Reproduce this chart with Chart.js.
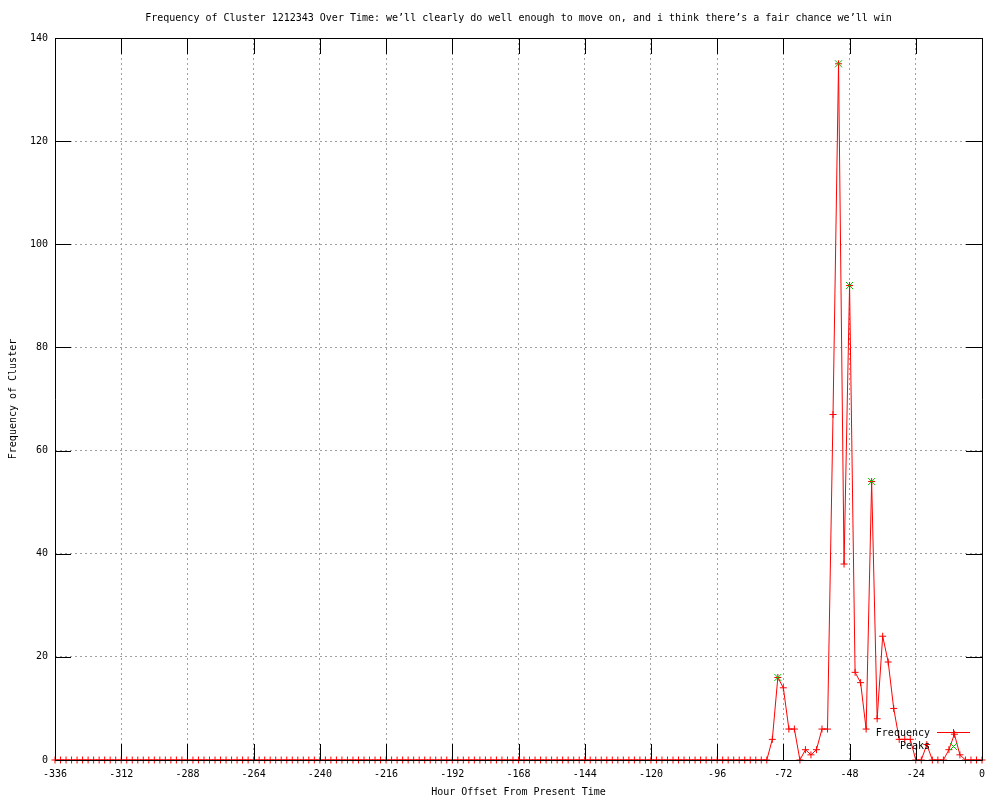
<!DOCTYPE html>
<html>
<head>
<meta charset="utf-8">
<script src="https://cdn.jsdelivr.net/npm/chart.js@4/dist/chart.umd.min.js"></script>
<style>
html, body { margin: 0; padding: 0; background: #fff; }
</style>
</head>
<body>
<canvas id="grafica" width="1000" height="800"></canvas>
<script>
// horas (cada 2 h) y frecuencia del cluster
const hours = [
  -336,-334,-332,-330,-328,-326,-324,-322,-320,-318,-316,-314,
  -312,-310,-308,-306,-304,-302,-300,-298,-296,-294,-292,-290,
  -288,-286,-284,-282,-280,-278,-276,-274,-272,-270,-268,-266,
  -264,-262,-260,-258,-256,-254,-252,-250,-248,-246,-244,-242,
  -240,-238,-236,-234,-232,-230,-228,-226,-224,-222,-220,-218,
  -216,-214,-212,-210,-208,-206,-204,-202,-200,-198,-196,-194,
  -192,-190,-188,-186,-184,-182,-180,-178,-176,-174,-172,-170,
  -168,-166,-164,-162,-160,-158,-156,-154,-152,-150,-148,-146,
  -144,-142,-140,-138,-136,-134,-132,-130,-128,-126,-124,-122,
  -120,-118,-116,-114,-112,-110,-108,-106,-104,-102,-100,-98,
  -96,-94,-92,-90,-88,-86,-84,-82,-80,-78,-76,-74,
  -72,-70,-68,-66,-64,-62,-60,-58,-56,-54,-52,-50,
  -48,-46,-44,-42,-40,-38,-36,-34,-32,-30,-28,-26,
  -24,-22,-20,-18,-16,-14,-12,-10,-8,-6,-4,-2,
  0
];
const frequency = [
  0,0,0,0,0,0,0,0,0,0,0,0,
  0,0,0,0,0,0,0,0,0,0,0,0,
  0,0,0,0,0,0,0,0,0,0,0,0,
  0,0,0,0,0,0,0,0,0,0,0,0,
  0,0,0,0,0,0,0,0,0,0,0,0,
  0,0,0,0,0,0,0,0,0,0,0,0,
  0,0,0,0,0,0,0,0,0,0,0,0,
  0,0,0,0,0,0,0,0,0,0,0,0,
  0,0,0,0,0,0,0,0,0,0,0,0,
  0,0,0,0,0,0,0,0,0,0,0,0,
  0,0,0,0,0,0,0,0,0,0,4,16,
  14,6,6,0,2,1,2,6,6,67,135,38,
  92,17,15,6,54,8,24,19,10,4,4,4,
  0,0,3,0,0,0,2,5,1,0,0,0,
  0
];
const peakHours = [-74, -52, -48, -40];
const peakValues = [16, 135, 92, 54];

const xTicks = [-336,-312,-288,-264,-240,-216,-192,-168,-144,-120,-96,-72,-48,-24,0];
const yTicks = [0,20,40,60,80,100,120,140];

const titulo = "Frequency of Cluster 1212343 Over Time: we\u2019ll clearly do well enough to move on, and i think there\u2019s a fair chance we\u2019ll win";
const tituloX = "Hour Offset From Present Time";
const tituloY = "Frequency of Cluster";
const fuente = '10px "DejaVu Sans Mono"';
const rojo = "#ff0000";
const verde = "#00c000";

// marco, ticks hacia dentro, titulos y leyenda al estilo gnuplot
const marco = {
  id: "marco",
  afterDatasetsDraw(chart) {
    const ctx = chart.ctx, a = chart.chartArea;
    const xs = chart.scales.x, ys = chart.scales.y;
    ctx.save();
    ctx.strokeStyle = "#000";
    ctx.lineWidth = 1;
    ctx.beginPath();
    ctx.rect(a.left + 0.5, a.top + 0.5, a.right - a.left, a.bottom - a.top);
    xTicks.forEach(function(v){
      const px = Math.round(xs.getPixelForValue(v)) + 0.5;
      ctx.moveTo(px, a.bottom); ctx.lineTo(px, a.bottom - 16);
      ctx.moveTo(px, a.top); ctx.lineTo(px, a.top + 16);
    });
    yTicks.forEach(function(v){
      const py = Math.round(ys.getPixelForValue(v)) + 0.5;
      ctx.moveTo(a.left, py); ctx.lineTo(a.left + 16, py);
      ctx.moveTo(a.right, py); ctx.lineTo(a.right - 16, py);
    });
    ctx.stroke();
    ctx.restore();
  },
  afterDraw(chart) {
    const ctx = chart.ctx, a = chart.chartArea;
    const cx = (a.left + a.right) / 2;
    ctx.save();
    ctx.font = fuente;
    ctx.fillStyle = "#000";
    ctx.textBaseline = "middle";
    ctx.textAlign = "center";
    ctx.fillText(titulo, cx, 18);
    ctx.fillText(tituloX, cx, 792);
    ctx.save();
    ctx.translate(13, (a.top + a.bottom) / 2);
    ctx.rotate(-Math.PI / 2);
    ctx.fillText(tituloY, 0, 0);
    ctx.restore();

    // leyenda
    ctx.textAlign = "right";
    ctx.fillText("Frequency", 930, 733);
    ctx.fillText("Peaks", 930, 746);
    ctx.strokeStyle = rojo;
    ctx.lineWidth = 1;
    ctx.beginPath();
    ctx.moveTo(937, 732.5); ctx.lineTo(970, 732.5);
    ctx.moveTo(953.5, 729); ctx.lineTo(953.5, 736);
    ctx.stroke();
    ctx.strokeStyle = verde;
    ctx.beginPath();
    ctx.moveTo(950, 743); ctx.lineTo(957, 750);
    ctx.moveTo(957, 743); ctx.lineTo(950, 750);
    ctx.stroke();
    ctx.restore();
  }
};

const miGrafica = document.getElementById("grafica").getContext("2d");
new Chart(miGrafica, {
  type: "line",
  data: {
    datasets: [
      {
        label: "Peaks",
        data: peakHours.map(function(h, i){ return {x: h, y: peakValues[i]}; }),
        showLine: false,
        pointStyle: "crossRot",
        pointRadius: 5,
        pointBorderWidth: 1,
        pointBorderColor: verde,
        borderColor: verde,
        clip: false,
        order: 0
      },
      {
        label: "Frequency",
        data: hours.map(function(h, i){ return {x: h, y: frequency[i]}; }),
        borderColor: rojo,
        borderWidth: 1,
        tension: 0,
        fill: false,
        pointStyle: "cross",
        pointRadius: 3.5,
        pointBorderWidth: 1,
        pointBorderColor: rojo,
        clip: false,
        order: 1
      }
    ]
  },
  options: {
    responsive: false,
    animation: false,
    devicePixelRatio: 1,
    layout: { padding: { top: 38, right: 18, left: 0, bottom: 0 } },
    plugins: {
      legend: { display: false },
      tooltip: { enabled: false },
      title: { display: false }
    },
    scales: {
      x: {
        type: "linear",
        min: -336,
        max: 0,
        afterFit: function(s){ s.height = 40; },
        afterBuildTicks: function(s){ s.ticks = xTicks.map(function(v){ return {value: v}; }); },
        ticks: { font: { family: "DejaVu Sans Mono", size: 10 }, color: "#000", padding: 8, maxRotation: 0, autoSkip: false },
        grid: { color: "#a0a0a0", drawTicks: false },
        border: { display: false, dash: [2, 3] }
      },
      y: {
        min: 0,
        max: 140,
        afterFit: function(s){ s.width = 55; },
        afterBuildTicks: function(s){ s.ticks = yTicks.map(function(v){ return {value: v}; }); },
        ticks: { font: { family: "DejaVu Sans Mono", size: 10 }, color: "#000", padding: 7 },
        grid: { color: "#a0a0a0", drawTicks: false },
        border: { display: false, dash: [2, 3] }
      }
    }
  },
  plugins: [marco]
});
</script>
</body>
</html>
